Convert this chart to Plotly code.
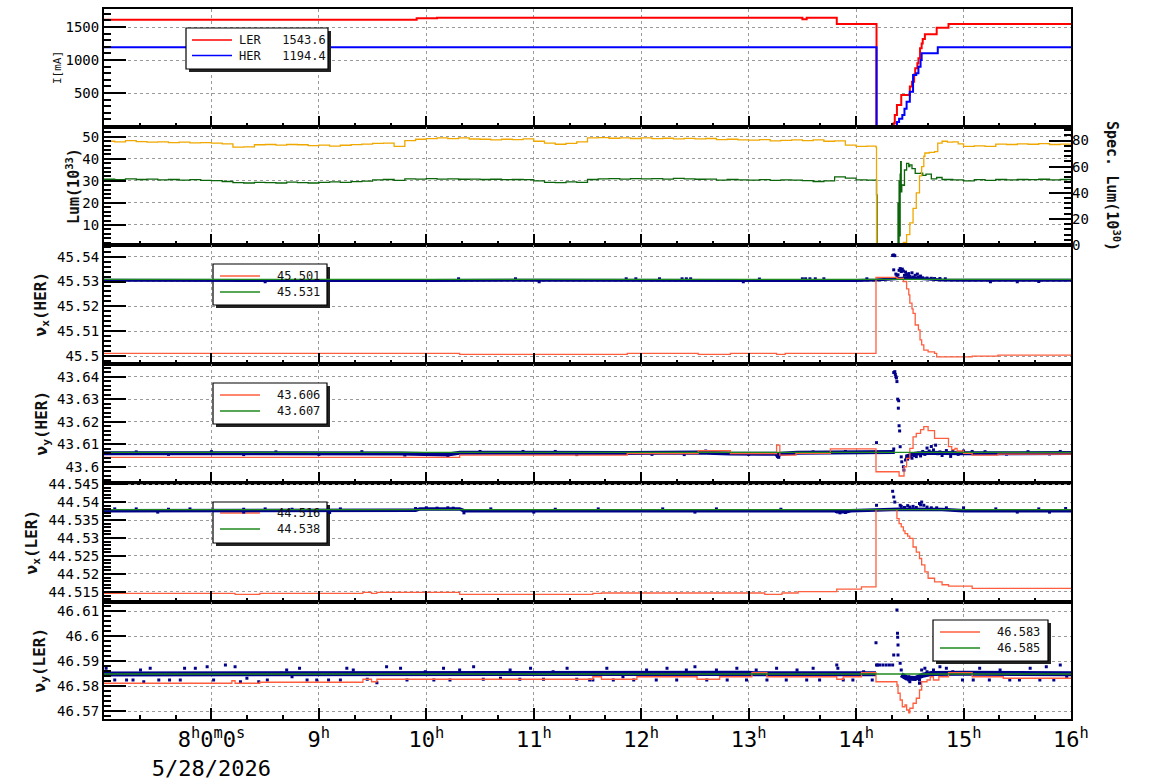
import plotly.graph_objects as go

MONO = "DejaVu Sans Mono"

# ---------------- time axis (hours on 5/28/2026) ----------------
X_RANGE = [7.0, 16.0]
HOUR_TICKS = [8, 9, 10, 11, 12, 13, 14, 15, 16]
HOUR_LABELS = ["8<sup>h</sup>0<sup>m</sup>0<sup>s</sup><br>5/28/2026", "9<sup>h</sup>", "10<sup>h</sup>",
               "11<sup>h</sup>", "12<sup>h</sup>", "13<sup>h</sup>", "14<sup>h</sup>", "15<sup>h</sup>",
               "16<sup>h</sup>"]

# ---------------- panel 1 : beam currents [mA] ----------------
LER_CURRENT = [(7.0, 1611), (9.91, 1632), (10.10, 1641), (13.50, 1618), (13.54, 1641), (13.82, 1545),
               (14.19, 0), (14.35, 40), (14.36, 167), (14.38, 318), (14.42, 470), (14.50, 600),
               (14.52, 672), (14.54, 780), (14.55, 874), (14.57, 950), (14.58, 1025), (14.595, 1177),
               (14.61, 1250), (14.62, 1320), (14.64, 1389), (14.75, 1490), (14.86, 1544), (16.0, 1544)]
HER_CURRENT = [(7.0, 1194), (14.19, 0), (14.38, 60), (14.40, 110), (14.43, 167), (14.45, 260),
               (14.47, 368), (14.50, 520), (14.53, 773), (14.56, 798), (14.58, 898), (14.60, 1000),
               (14.61, 1101), (14.76, 1194), (16.0, 1194)]
CURRENT_LEGEND = ["LER\u00a0\u00a0\u00a01543.6", "HER\u00a0\u00a0\u00a01194.4"]

# ---------------- panel 2 : luminosity ----------------
LUM = [(7.0, 30.7), (7.1, 30.5), (7.2, 30.9), (7.3, 30.6), (7.4, 30.8), (7.5, 30.4), (7.6, 30.6),
       (7.7, 30.3), (7.8, 30.5), (7.9, 30.2), (8.0, 30.1), (8.1, 29.7), (8.2, 29.2), (8.3, 29.0),
       (8.4, 29.3), (8.5, 29.2), (8.6, 29.0), (8.7, 29.4), (8.8, 29.2), (8.9, 29.0), (9.0, 29.3),
       (9.1, 29.5), (9.2, 29.3), (9.3, 29.6), (9.4, 29.9), (9.5, 30.4), (9.6, 30.6), (9.7, 30.2),
       (9.8, 30.9), (9.9, 30.8), (10.0, 31.0), (10.1, 30.8), (10.2, 30.9), (10.3, 30.7), (10.4, 30.8),
       (10.5, 30.6), (10.6, 30.7), (10.7, 30.5), (10.8, 30.6), (10.9, 30.5), (11.0, 30.0), (11.1, 29.3),
       (11.2, 29.2), (11.3, 29.5), (11.4, 29.3), (11.5, 30.6), (11.6, 30.9), (11.7, 31.0), (11.8, 30.8),
       (11.9, 31.0), (12.0, 30.9), (12.1, 31.0), (12.2, 30.8), (12.3, 31.1), (12.4, 30.9), (12.5, 30.7),
       (12.6, 30.8), (12.7, 30.3), (12.8, 30.6), (12.9, 30.4), (13.0, 30.3), (13.1, 30.5), (13.2, 30.2),
       (13.3, 30.4), (13.4, 30.3), (13.5, 30.1), (13.6, 29.7), (13.7, 30.0), (13.8, 31.8), (13.9, 31.2),
       (14.0, 30.4), (14.1, 30.3), (14.185, 30.4), (14.19, 23.6), (14.195, 1.5), (14.385, 1.5),
       (14.39, 20.0), (14.395, 1.5), (14.40, 30.0), (14.405, 5.0), (14.41, 33.0), (14.415, 38.7),
       (14.42, 25.0), (14.425, 28.1), (14.44, 28.0), (14.45, 34.9), (14.47, 37.9), (14.49, 36.5),
       (14.50, 37.2), (14.52, 35.5), (14.55, 33.4), (14.60, 33.5), (14.62, 32.5), (14.65, 33.0),
       (14.70, 30.9), (14.75, 31.5), (14.80, 30.6), (14.90, 30.4), (15.0, 30.0), (15.1, 30.5),
       (15.2, 30.2), (15.3, 30.6), (15.4, 30.4), (15.5, 30.6), (15.6, 30.5), (15.7, 30.7), (15.8, 30.4),
       (15.9, 30.6), (16.0, 30.5)]
SPEC_LUM = [(7.0, 79.5), (7.1, 79.0), (7.2, 80.0), (7.3, 79.2), (7.4, 78.8), (7.5, 79.0), (7.6, 78.5),
            (7.7, 78.8), (7.8, 78.2), (7.9, 78.5), (8.0, 78.0), (8.1, 77.5), (8.2, 75.0), (8.3, 75.2),
            (8.4, 76.8), (8.5, 77.0), (8.6, 76.5), (8.7, 77.0), (8.8, 76.8), (8.9, 76.2), (9.0, 76.5),
            (9.1, 75.8), (9.2, 76.4), (9.3, 76.9), (9.4, 77.3), (9.5, 77.8), (9.6, 78.0), (9.7, 75.5),
            (9.8, 80.0), (9.9, 81.0), (10.0, 81.5), (10.1, 82.0), (10.2, 81.5), (10.3, 82.0), (10.4, 81.2),
            (10.5, 81.0), (10.6, 80.5), (10.7, 81.0), (10.8, 80.8), (10.9, 81.3), (11.0, 79.5), (11.1, 78.0),
            (11.2, 77.2), (11.3, 77.8), (11.4, 79.0), (11.5, 82.0), (11.6, 82.3), (11.7, 81.8), (11.8, 82.0),
            (11.9, 81.6), (12.0, 82.0), (12.1, 81.5), (12.2, 81.8), (12.3, 81.3), (12.4, 81.7), (12.5, 81.3),
            (12.6, 81.6), (12.7, 80.8), (12.8, 81.0), (12.9, 80.5), (13.0, 80.4), (13.1, 80.8), (13.2, 79.8),
            (13.3, 80.2), (13.4, 80.6), (13.5, 80.0), (13.6, 80.5), (13.7, 79.5), (13.8, 79.8), (13.9, 76.5),
            (14.0, 75.5), (14.1, 75.8), (14.185, 75.0), (14.19, 0.9), (14.42, 0.9), (14.44, 2.0),
            (14.47, 8.0), (14.50, 17.0), (14.53, 28.0), (14.56, 40.0), (14.59, 53.0), (14.61, 60.0),
            (14.63, 68.0), (14.64, 70.5), (14.68, 71.0), (14.73, 71.5), (14.76, 78.0), (14.80, 79.5),
            (14.85, 78.8), (14.90, 79.0), (14.95, 77.5), (15.0, 75.5), (15.1, 76.0), (15.2, 75.5),
            (15.3, 77.3), (15.4, 77.0), (15.5, 77.5), (15.6, 77.2), (15.7, 77.6), (15.8, 77.0),
            (15.9, 77.3), (16.0, 76.8)]

# ---------------- panel 3 : nu_x (HER) ----------------
HX_SET = [(7.0, 45.5011), (10.31, 45.5007), (11.87, 45.5011), (12.53, 45.5007), (12.83, 45.5011),
          (13.26, 45.5007), (13.34, 45.5011), (14.185, 45.5317), (14.38, 45.5313), (14.44, 45.5300),
          (14.47, 45.5270), (14.49, 45.5246), (14.50, 45.5213), (14.52, 45.5190), (14.53, 45.5172),
          (14.55, 45.5125), (14.58, 45.5105), (14.595, 45.5065), (14.61, 45.5045), (14.63, 45.5024),
          (14.67, 45.5017), (14.73, 45.5011), (14.75, 45.4997), (15.08, 45.5000), (15.32, 45.5004),
          (16.0, 45.5004)]
HX_REF = [(7.0, 45.5309), (16.0, 45.5309)]
HX_BAND = [(7.0, 45.5305), (8.0, 45.5304), (9.0, 45.5305), (10.0, 45.5304), (11.0, 45.5305),
           (12.0, 45.5304), (13.0, 45.5305), (14.0, 45.5304), (14.185, 45.5306), (14.30, 45.5309),
           (14.40, 45.5312), (14.50, 45.5315), (14.60, 45.5312), (14.70, 45.5309), (14.80, 45.5306),
           (15.0, 45.5305), (16.0, 45.5305)]
HX_DOTS = [(10.30, 45.5311), (10.83, 45.5311), (11.86, 45.5311), (11.95, 45.5311), (12.17, 45.5311),
           (12.38, 45.5311), (12.42, 45.5311), (12.46, 45.5311), (13.10, 45.5310), (13.50, 45.5311),
           (13.53, 45.5311), (13.57, 45.5311), (13.62, 45.5311), (13.70, 45.5311), (14.10, 45.5311),
           (14.34, 45.5405), (14.35, 45.5407), (14.36, 45.5404), (14.35, 45.5347), (14.37, 45.5330),
           (14.38, 45.5322), (14.39, 45.5327), (14.40, 45.5345), (14.41, 45.5352), (14.42, 45.5340),
           (14.43, 45.5350), (14.44, 45.5342), (14.45, 45.5325), (14.46, 45.5338), (14.47, 45.5328),
           (14.48, 45.5322), (14.49, 45.5332), (14.50, 45.5320), (14.52, 45.5335), (14.53, 45.5318),
           (14.55, 45.5325), (14.57, 45.5330), (14.58, 45.5318), (14.60, 45.5322), (14.62, 45.5315),
           (14.66, 45.5314), (14.70, 45.5313), (14.73, 45.5312), (14.78, 45.5312), (14.83, 45.5311),
           (8.50, 45.5299), (11.05, 45.5299), (12.95, 45.5299), (15.25, 45.5299), (15.50, 45.5299),
           (15.70, 45.5300)]
HX_LEGEND = ["45.501", "45.531"]

# ---------------- panel 4 : nu_y (HER) ----------------
HY_SET = [(7.0, 43.6042), (10.31, 43.6052), (11.87, 43.6059), (12.53, 43.6071), (12.83, 43.6059),
          (13.26, 43.6096), (13.29, 43.6052), (13.44, 43.6060), (13.76, 43.6079), (14.185, 43.5978),
          (14.40, 43.5959), (14.446, 43.6000), (14.47, 43.6037), (14.50, 43.6082), (14.53, 43.6133),
          (14.56, 43.6148), (14.60, 43.6165), (14.63, 43.6178), (14.66, 43.6178), (14.67, 43.6160),
          (14.73, 43.6126), (14.86, 43.6089), (14.89, 43.6076), (14.92, 43.6082), (14.94, 43.6070),
          (14.97, 43.6070), (15.00, 43.6060), (15.08, 43.6052), (15.32, 43.6056), (16.0, 43.6056)]
HY_REF = [(7.0, 43.6064), (16.0, 43.6064)]
HY_BAND = [(7.0, 43.6060), (8.0, 43.6061), (9.0, 43.6060), (9.76, 43.6059), (10.2, 43.6055),
           (10.31, 43.6062), (11.87, 43.6061), (12.53, 43.6063), (12.83, 43.6059), (13.25, 43.6058),
           (13.27, 43.6048), (13.30, 43.6058), (13.45, 43.6062), (14.185, 43.6063), (14.36, 43.6066),
           (14.37, None), (14.46, 43.6045), (14.50, 43.6052), (14.55, 43.6058), (14.60, 43.6060),
           (14.65, 43.6063), (14.70, 43.6062), (14.80, 43.6061), (15.0, 43.6060), (16.0, 43.6061)]
HY_DOTS = [(14.19, 43.6107), (14.35, 43.6079), (14.35, 43.6418), (14.36, 43.6422), (14.365, 43.6410),
           (14.37, 43.6400), (14.375, 43.6394), (14.38, 43.6378), (14.387, 43.6300), (14.393, 43.6260),
           (14.396, 43.6293), (14.40, 43.6182), (14.405, 43.6159), (14.41, 43.6089), (14.42, 43.6044),
           (14.425, 43.6022), (14.44, 43.6000), (14.445, 43.5985), (14.46, 43.6030), (14.47, 43.6040),
           (14.48, 43.6034), (14.50, 43.6045), (14.52, 43.6038), (14.54, 43.6050), (14.56, 43.6045),
           (14.58, 43.6060), (14.60, 43.6048), (14.62, 43.6068), (14.64, 43.6055), (14.66, 43.6083),
           (14.68, 43.6070), (14.70, 43.6090), (14.72, 43.6075), (14.74, 43.6096), (14.76, 43.6058),
           (14.78, 43.6066), (14.80, 43.6050), (14.84, 43.6072), (14.88, 43.6046), (14.90, 43.6068),
           (14.95, 43.6055), (15.00, 43.6070), (15.08, 43.6068), (15.20, 43.6067), (15.40, 43.6056),
           (15.60, 43.6067), (15.80, 43.6057), (15.90, 43.6068), (7.30, 43.6066), (7.60, 43.6055),
           (8.00, 43.6067), (8.30, 43.6054), (8.60, 43.6066), (9.00, 43.6055), (9.40, 43.6067),
           (9.80, 43.6052), (10.20, 43.6049), (10.50, 43.6068), (10.90, 43.6068), (11.20, 43.6068),
           (11.40, 43.6054), (12.10, 43.6055), (12.40, 43.6054), (12.60, 43.6070), (13.00, 43.6055),
           (13.27, 43.6045), (13.28, 43.6042), (13.60, 43.6066), (13.90, 43.6068)]
HY_LEGEND = ["43.606", "43.607"]

# ---------------- panel 5 : nu_x (LER) ----------------
LX_SET = [(7.0, 44.5146), (8.22, 44.5143), (8.45, 44.5146), (9.41, 44.5149), (9.49, 44.5146),
          (9.54, 44.5149), (10.31, 44.5143), (11.55, 44.5146), (11.63, 44.5147), (13.15, 44.5143),
          (13.31, 44.5147), (13.46, 44.5151), (13.82, 44.5158), (14.05, 44.5164), (14.185, 44.5379),
          (14.38, 44.5354), (14.40, 44.5340), (14.42, 44.5331), (14.44, 44.5320), (14.455, 44.5312),
          (14.48, 44.5305), (14.50, 44.5299), (14.53, 44.5275), (14.56, 44.5261), (14.59, 44.5243),
          (14.61, 44.5225), (14.64, 44.5206), (14.67, 44.5188), (14.73, 44.5178), (14.80, 44.5170),
          (14.86, 44.5166), (15.08, 44.5160), (16.0, 44.5160)]
LX_REF = [(7.0, 44.5379), (16.0, 44.5379)]
LX_BAND = [(7.0, 44.5376), (8.0, 44.5377), (9.0, 44.5376), (9.9, 44.5377), (9.94, 44.5381),
           (10.31, 44.5381), (10.35, 44.5376), (11.5, 44.5377), (12.5, 44.5376), (13.8, 44.5376),
           (13.82, 44.5373), (13.91, 44.5373), (13.95, 44.5376), (14.185, 44.5378), (14.40, 44.5380),
           (14.80, 44.5379), (15.0, 44.5376), (16.0, 44.5376)]
LX_DOTS = [(14.34, 44.5430), (14.35, 44.5414), (14.36, 44.5400), (14.19, 44.5391), (14.41, 44.5391),
           (14.42, 44.5388), (14.45, 44.5385), (14.48, 44.5390), (14.50, 44.5386), (14.53, 44.5388),
           (14.56, 44.5385), (14.59, 44.5396), (14.60, 44.5392), (14.61, 44.5400), (14.63, 44.5391),
           (14.66, 44.5386), (14.70, 44.5384), (14.75, 44.5384), (14.84, 44.5384), (15.00, 44.5384),
           (7.10, 44.5381), (7.30, 44.5381), (7.60, 44.5380), (7.80, 44.5381), (8.30, 44.5380),
           (8.50, 44.5381), (8.75, 44.5380), (9.20, 44.5381), (9.90, 44.5382), (10.00, 44.5384),
           (10.10, 44.5383), (10.20, 44.5384), (10.25, 44.5383), (10.60, 44.5381), (11.20, 44.5380),
           (11.60, 44.5381), (12.20, 44.5381), (12.70, 44.5381), (13.30, 44.5380), (15.30, 44.5381),
           (15.70, 44.5381), (15.95, 44.5382), (7.50, 44.5372), (8.30, 44.5372), (9.10, 44.5371),
           (10.35, 44.5370), (11.00, 44.5372), (12.50, 44.5372), (13.85, 44.5370), (13.90, 44.5371),
           (15.50, 44.5372), (15.80, 44.5372)]
LX_LEGEND = ["44.516", "44.538"]

# ---------------- panel 6 : nu_y (LER) ----------------
LY_SET = [(7.0, 46.5811), (8.19, 46.5821), (8.22, 46.5811), (8.45, 46.5815), (9.41, 46.5827),
          (9.49, 46.5817), (9.54, 46.5827), (11.55, 46.5837), (11.63, 46.5827), (11.96, 46.5837),
          (12.52, 46.5827), (12.73, 46.5837), (13.03, 46.5853), (13.17, 46.5837), (13.82, 46.5827),
          (13.88, 46.5837), (14.05, 46.5853), (14.185, 46.5817), (14.36, 46.5817), (14.38, 46.5804),
          (14.39, 46.5771), (14.41, 46.5744), (14.43, 46.5717), (14.455, 46.5724), (14.47, 46.5704),
          (14.49, 46.5693), (14.50, 46.5711), (14.53, 46.5731), (14.56, 46.5751), (14.59, 46.5784),
          (14.61, 46.5817), (14.66, 46.5824), (14.69, 46.5837), (14.72, 46.5824), (14.77, 46.5837),
          (14.86, 46.5853), (15.08, 46.5837), (15.37, 46.5831), (16.0, 46.5831)]
LY_REF = [(7.0, 46.5848), (16.0, 46.5848)]
LY_BAND = [(7.0, 46.5848), (8.0, 46.5849), (9.0, 46.5848), (9.5, 46.5850), (10.3, 46.5850),
           (11.5, 46.5849), (11.55, 46.5851), (13.0, 46.5851), (13.05, 46.5849), (13.6, 46.5849),
           (13.65, 46.5846), (13.9, 46.5846), (13.95, 46.5849), (14.185, 46.5849), (14.19, None),
           (14.42, 46.5845), (14.47, 46.5832), (14.55, 46.5830), (14.62, 46.5843), (14.70, 46.5850),
           (15.0, 46.5851), (16.0, 46.5849)]
LY_DOTS = [(7.02, 46.5871), (7.10, 46.5824), (7.21, 46.5824), (7.27, 46.5824), (7.34, 46.5864),
           (7.37, 46.5817), (7.43, 46.5871), (7.51, 46.5824), (7.61, 46.5824), (7.71, 46.5824),
           (7.75, 46.5871), (7.85, 46.5871), (7.96, 46.5877), (8.02, 46.5824), (8.13, 46.5884),
           (8.22, 46.5877), (8.27, 46.5817), (8.33, 46.5831), (8.44, 46.5817), (8.52, 46.5824),
           (8.65, 46.5851), (8.70, 46.5864), (8.75, 46.5837), (8.82, 46.5871), (8.89, 46.5824),
           (8.98, 46.5824), (9.09, 46.5824), (9.20, 46.5824), (9.26, 46.5871), (9.32, 46.5864),
           (9.45, 46.5827), (9.54, 46.5813), (9.63, 46.5877), (9.76, 46.5871), (9.82, 46.5824),
           (9.99, 46.5857), (10.07, 46.5824), (10.16, 46.5871), (10.22, 46.5824), (10.31, 46.5864),
           (10.44, 46.5877), (10.53, 46.5827), (10.69, 46.5831), (10.78, 46.5864), (10.87, 46.5827),
           (10.97, 46.5871), (11.09, 46.5827), (11.18, 46.5857), (11.31, 46.5871), (11.40, 46.5827),
           (11.52, 46.5824), (11.55, 46.5824), (11.68, 46.5871), (11.74, 46.5824), (11.83, 46.5837),
           (11.93, 46.5824), (12.05, 46.5864), (12.14, 46.5824), (12.24, 46.5871), (12.33, 46.5824),
           (12.42, 46.5864), (12.50, 46.5877), (12.61, 46.5824), (12.70, 46.5864), (12.80, 46.5824),
           (12.89, 46.5871), (12.98, 46.5824), (13.07, 46.5864), (13.17, 46.5824), (13.26, 46.5871),
           (13.35, 46.5824), (13.45, 46.5864), (13.54, 46.5824), (13.60, 46.5871), (13.66, 46.5824),
           (13.82, 46.5884), (13.83, 46.5871), (13.88, 46.5824), (13.97, 46.5824), (14.07, 46.5857),
           (14.15, 46.5824), (14.185, 46.5973), (14.19, 46.5884), (14.20, 46.5884), (14.22, 46.5884),
           (14.25, 46.5884), (14.28, 46.5884), (14.31, 46.5884), (14.34, 46.5884), (14.35, 46.5924),
           (14.38, 46.6104), (14.385, 46.6011), (14.387, 46.5995), (14.39, 46.5964), (14.39, 46.5924),
           (14.41, 46.5891), (14.42, 46.5864), (14.49, 46.5837), (14.49, 46.5824), (14.50, 46.5817),
           (14.53, 46.5831), (14.59, 46.5811), (14.59, 46.5824), (14.61, 46.5864), (14.64, 46.5871),
           (14.66, 46.5857), (14.72, 46.5864), (14.78, 46.5877), (14.84, 46.5871), (14.90, 46.5857),
           (14.99, 46.5824), (15.09, 46.5824), (15.15, 46.5871), (15.24, 46.5824), (15.34, 46.5864),
           (15.43, 46.5824), (15.52, 46.5824), (15.62, 46.5871), (15.71, 46.5824), (15.77, 46.5877),
           (15.84, 46.5824), (15.90, 46.5884), (15.96, 46.5837)]
LY_LEGEND = ["46.583", "46.585"]

# ---------------- styling ----------------
C_LER, C_HER = "#ff0000", "#0000ff"
C_LUM, C_SPEC = "#0b650b", "#f0a800"
C_SET, C_REF, C_MEAS = "#ff5f3f", "#1f8a1f", "#000088"

W, H = 1154, 782
M_L, M_R, M_T, M_B = 104, 83, 9, 63
PLOT_H = H - M_T - M_B
PLOT_W = W - M_L - M_R
PANEL_PX = [9, 127, 245, 364, 483, 602, 719]


def dom(i):
    return [(H - M_B - PANEL_PX[i + 1]) / PLOT_H, (H - M_B - PANEL_PX[i]) / PLOT_H]


def py(px):
    return (H - M_B - px) / PLOT_H


def pxx(px):
    return (px - M_L) / PLOT_W


def split(pairs):
    return [p[0] for p in pairs], [p[1] for p in pairs]


fig = go.Figure()


def add_line(pairs, color, width, xa, ya, shape="hv"):
    t, v = split(pairs)
    fig.add_trace(go.Scatter(x=t, y=v, mode="lines", line=dict(color=color, width=width, shape=shape),
                             xaxis=xa, yaxis=ya, showlegend=False, hoverinfo="skip"))


def add_dots(pairs, xa, ya):
    t, v = split(pairs)
    fig.add_trace(go.Scatter(x=t, y=v, mode="markers",
                             marker=dict(color=C_MEAS, size=3, symbol="square", line=dict(width=0)),
                             xaxis=xa, yaxis=ya, showlegend=False, hoverinfo="skip"))


# panel 1
add_line(LER_CURRENT, C_LER, 2, "x", "y")
add_line(HER_CURRENT, C_HER, 2, "x", "y")
# panel 2
add_line(LUM, C_LUM, 1.3, "x2", "y2")
add_line(SPEC_LUM, C_SPEC, 1.3, "x2", "y7")

tune_panels = [
    (HX_BAND, HX_DOTS, HX_SET, HX_REF, "x3", "y3", 3),
    (HY_BAND, HY_DOTS, HY_SET, HY_REF, "x4", "y4", 4),
    (LX_BAND, LX_DOTS, LX_SET, LX_REF, "x5", "y5", 3.5),
    (LY_BAND, LY_DOTS, LY_SET, LY_REF, "x6", "y6", 5),
]
for band, dots, setv, ref, xa, ya, bw in tune_panels:
    add_line(band, C_MEAS, bw, xa, ya, shape="linear")
    add_dots(dots, xa, ya)
    add_line(setv, C_SET, 1.3, xa, ya)
    add_line(ref, C_REF, 1.3, xa, ya)

AX_FONT = dict(family=MONO, size=14, color="black")
GRID = dict(showgrid=True, gridcolor="#9a9a9a", griddash="dot", gridwidth=1)

layout = dict(
    width=W, height=H, margin=dict(l=M_L, r=M_R, t=M_T, b=M_B, autoexpand=False),
    paper_bgcolor="white", plot_bgcolor="white", font=dict(family=MONO, color="black"),
    showlegend=False,
)

# x axes
for i in range(1, 7):
    key = "xaxis" if i == 1 else f"xaxis{i}"
    layout[key] = dict(
        domain=[0, 1], range=X_RANGE, anchor="y" if i == 1 else f"y{i}", automargin=False,
        tickmode="array", tickvals=HOUR_TICKS, ticktext=HOUR_LABELS,
        showticklabels=(i == 6), tickfont=dict(family=MONO, size=22, color="black"),
        ticks="inside", ticklen=11, tickwidth=2, tickcolor="black",
        minor=dict(dtick=1 / 3, tick0=7, ticks="inside", ticklen=4, tickwidth=1.5, tickcolor="black",
                   showgrid=False),
        showline=True, linewidth=2, linecolor="black", mirror=True, zeroline=False, **GRID,
    )
    if i > 1:
        layout[key]["matches"] = "x"

Y_SPECS = [
    ([-15, 1773], [500, 1000, 1500], ["500", "1000", "1500"], 100),
    ([0.9, 54.4], [10, 20, 30, 40, 50], ["10", "20", "30", "40", "50"], 2),
    ([45.4968, 45.5447], [45.50, 45.51, 45.52, 45.53, 45.54], ["45.5", "45.51", "45.52", "45.53", "45.54"], 0.002),
    ([43.5928, 43.6456], [43.60, 43.61, 43.62, 43.63, 43.64], ["43.6", "43.61", "43.62", "43.63", "43.64"], 0.002),
    ([44.5122, 44.5453], [44.515, 44.52, 44.525, 44.53, 44.535, 44.54, 44.545],
     ["44.515", "44.52", "44.525", "44.53", "44.535", "44.54", "44.545"], 0.001),
    ([46.5668, 46.6136], [46.57, 46.58, 46.59, 46.60, 46.61], ["46.57", "46.58", "46.59", "46.6", "46.61"], 0.002),
]
for i, (rng, tv, tt, mdt) in enumerate(Y_SPECS, start=1):
    key = "yaxis" if i == 1 else f"yaxis{i}"
    layout[key] = dict(
        domain=dom(i - 1), range=rng, anchor="x" if i == 1 else f"x{i}", automargin=False,
        tickmode="array", tickvals=tv, ticktext=tt, tickfont=AX_FONT,
        ticks="inside", ticklen=22, tickwidth=2, tickcolor="black",
        minor=dict(dtick=mdt, tick0=0, ticks="inside", ticklen=7, tickwidth=1.5, tickcolor="black",
                   showgrid=False),
        showline=True, linewidth=2, linecolor="black", mirror=True, zeroline=False, **GRID,
    )

layout["yaxis7"] = dict(
    overlaying="y2", side="right", anchor="x2", range=[0, 90.4], automargin=False,
    tickmode="array", tickvals=[0, 20, 40, 60, 80], ticktext=["0", "20", "40", "60", "80"],
    tickfont=AX_FONT, ticks="inside", ticklen=22, tickwidth=2, tickcolor="black",
    minor=dict(dtick=4, tick0=0, ticks="inside", ticklen=7, tickwidth=1.5, tickcolor="black", showgrid=False),
    showline=False, showgrid=False, zeroline=False,
)

# ---------------- y titles ----------------
centers = [(PANEL_PX[i] + PANEL_PX[i + 1]) / 2 for i in range(6)]
TITLES = [
    ("I[mA]", 57, 11, False),
    ("Lum(10<sup>33</sup>)", 73, 15, True),
    ("\u03bd<sub>x</sub>(HER)", 41, 16, True),
    ("\u03bd<sub>y</sub>(HER)", 42, 16, True),
    ("\u03bd<sub>x</sub>(LER)", 32, 16, True),
    ("\u03bd<sub>y</sub>(LER)", 40, 16, True),
]
ann = []
for (txt, xp, fs, bold), cy in zip(TITLES, centers):
    ann.append(dict(text=f"<b>{txt}</b>" if bold else txt, xref="paper", yref="paper", x=pxx(xp), y=py(cy),
                    xanchor="center", yanchor="middle", textangle=-90, showarrow=False,
                    font=dict(family=MONO, size=fs, color="#111")))
ann.append(dict(text="<b>Spec. Lum(10<sup>30</sup>)</b>", xref="paper", yref="paper", x=pxx(1113), y=py(186),
                xanchor="center", yanchor="middle", textangle=90, showarrow=False,
                font=dict(family=MONO, size=15, color="#111")))

# ---------------- legend boxes (drawn) ----------------
shapes = []
LEGENDS = [
    # panel index, box (left, top, right, bottom px), sample x0,x1, row ys, entries, text anchor
    (0, (186, 28, 328, 69), (192, 232), (40, 55.5), [(CURRENT_LEGEND[0], C_LER), (CURRENT_LEGEND[1], C_HER)],
     ("left", 237)),
    (2, (213, 264, 327, 305), (220, 260), (276, 292), [(HX_LEGEND[0], C_SET), (HX_LEGEND[1], C_REF)],
     ("right", 322)),
    (3, (213, 383, 327, 424), (220, 260), (395, 411), [(HY_LEGEND[0], C_SET), (HY_LEGEND[1], C_REF)],
     ("right", 322)),
    (4, (213, 502, 327, 543), (220, 260), (513, 529), [(LX_LEGEND[0], C_SET), (LX_LEGEND[1], C_REF)],
     ("right", 322)),
    (5, (933, 620, 1048, 661), (940, 980), (632, 648), [(LY_LEGEND[0], C_SET), (LY_LEGEND[1], C_REF)],
     ("right", 1042)),
]
for pi, (l, t, r, b), (s0, s1), rows, entries, (anc, tx) in LEGENDS:
    top, bot = PANEL_PX[pi], PANEL_PX[pi + 1]
    y0r, y1r = Y_SPECS[pi][0]
    if pi == 0:
        # current legend sits on top of the data
        sref = dict(xref="paper", yref="paper", layer="above")

        def fx(px):
            return pxx(px)

        def fy(px):
            return py(px)
    else:
        # tune legends are drawn beneath the data (above the grid)
        n = str(pi + 1)
        sref = dict(xref=f"x{n}", yref=f"y{n}", layer="between")

        def fx(px):
            return X_RANGE[0] + (px - M_L) / PLOT_W * (X_RANGE[1] - X_RANGE[0])

        def fy(px, top=top, bot=bot, y0r=y0r, y1r=y1r):
            return y0r + (bot - px) / (bot - top) * (y1r - y0r)

    shapes.append(dict(type="rect", x0=fx(l + 3), x1=fx(r + 3), y0=fy(b + 3), y1=fy(t + 3),
                       fillcolor="#222", line=dict(width=0), **sref))
    shapes.append(dict(type="rect", x0=fx(l), x1=fx(r), y0=fy(b), y1=fy(t),
                       fillcolor="white", line=dict(color="black", width=1.2), **sref))
    for ry, (txt, col) in zip(rows, entries):
        shapes.append(dict(type="line", x0=fx(s0), x1=fx(s1), y0=fy(ry), y1=fy(ry),
                           line=dict(color=col, width=1.5), **sref))
        ann.append(dict(text=txt, xref="paper", yref="paper", x=pxx(tx), y=py(ry), xanchor=anc,
                        yanchor="middle", showarrow=False, font=dict(family=MONO, size=12, color="#111")))

layout["annotations"] = ann
layout["shapes"] = shapes

fig.update_layout(**layout)
fig.write_html("out.html")
